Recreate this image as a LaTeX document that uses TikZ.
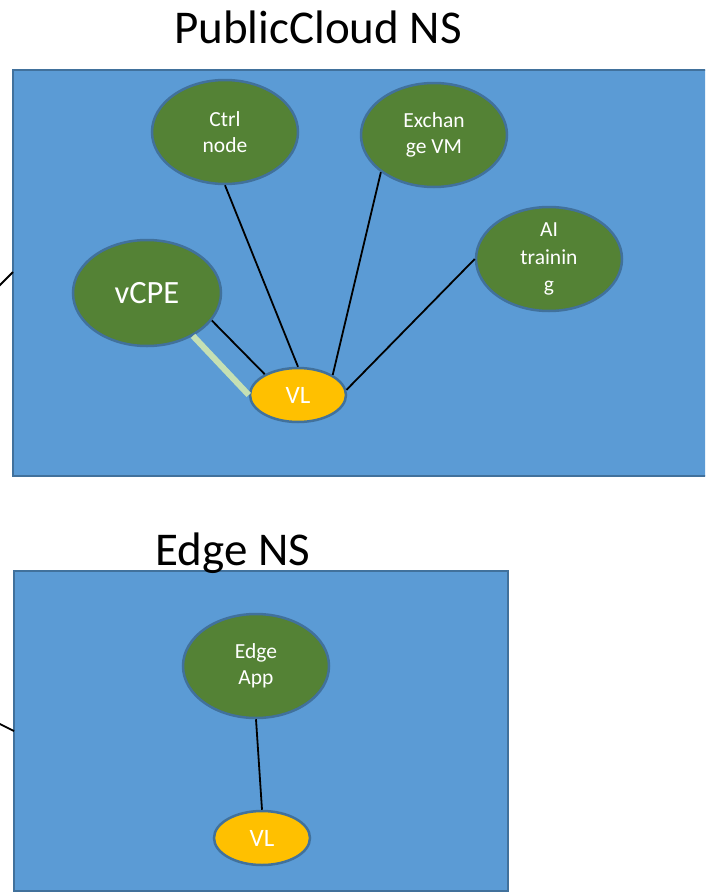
\documentclass[tikz,border=0pt]{standalone}
\usepackage{fontspec}
\setmainfont{Carlito}
\usetikzlibrary{shapes.geometric}
\definecolor{nsfill}{HTML}{5B9BD5}
\definecolor{nsedge}{HTML}{41719C}
\definecolor{vnfgreen}{HTML}{548235}
\definecolor{vlyellow}{HTML}{FFC000}
\definecolor{linkgreen}{HTML}{C5E0B4}
\tikzset{
  nsbox/.style={draw=nsedge, fill=nsfill, line width=2.5pt},
  vnf/.style={ellipse, draw=nsedge, fill=vnfgreen, line width=2.5pt,
    minimum width=146pt, minimum height=104pt, inner sep=0pt,
    text=white, align=center, font=\fontsize{21.5}{26}\selectfont},
  vlink/.style={ellipse, draw=nsedge, fill=vlyellow, line width=2.5pt,
    minimum width=96pt, minimum height=54pt, inner sep=0pt,
    text=white, font=\fontsize{25}{28}\selectfont},
  conn/.style={black, line width=1.8pt},
  nstitle/.style={font=\fontsize{47}{52}\selectfont, text=black},
}
\begin{document}
\begin{tikzpicture}[x=1pt, y=-1pt]
  \useasboundingbox (0,0) rectangle (705,894);
  \clip (0,0) rectangle (705,894);
  \fill[white] (0,0) rectangle (705,894);

  % PublicCloud network service
  \node[nstitle] (pctitle) at (318,27) {PublicCloud NS};
  \draw[nsbox] (13,70) rectangle (712,476);
  \coordinate (pcport) at (13,272);
  \coordinate (pcext) at (-2,287);
  \draw[conn] (pcext) -- (pcport);

  \node[vnf] (ctrl) at (225,132) {Ctrl\\node};
  \node[vnf] (exch) at (434,135) {Exchan\\ge VM};
  \node[vnf, font=\fontsize{21.5}{27.5}\selectfont] (ai) at (549,259) {AI\\trainin\\g};
  \node[vnf, minimum width=148pt, minimum height=106pt, font=\fontsize{32.5}{36}\selectfont] (vcpe) at (147,293) {vCPE};
  \node[vlink] (vl1) at (298,395) {VL};

  \draw[conn] (ctrl.south) -- (vl1.north);
  \draw[conn] (exch.215) -- (vl1.30);
  \draw[conn] (ai.west) -- (vl1.6);
  \draw[conn] (vcpe.-23) -- (vl1.148);
  \draw[linkgreen, line width=6pt] (vcpe.-43) -- (vl1.west);

  % Edge network service
  \draw[nsbox] (14,571) rectangle (508,891);
  \node[nstitle] (edgetitle) at (233,553) {Edge NS};
  \coordinate (edport) at (14,731);
  \coordinate (edext) at (-2,723);
  \draw[conn] (edext) -- (edport);

  \node[vnf] (edgeapp) at (256,666) {Edge\\App};
  \node[vlink] (vl2) at (262,838) {VL};
  \draw[conn] (edgeapp.south) -- (vl2.north);
\end{tikzpicture}
\end{document}
